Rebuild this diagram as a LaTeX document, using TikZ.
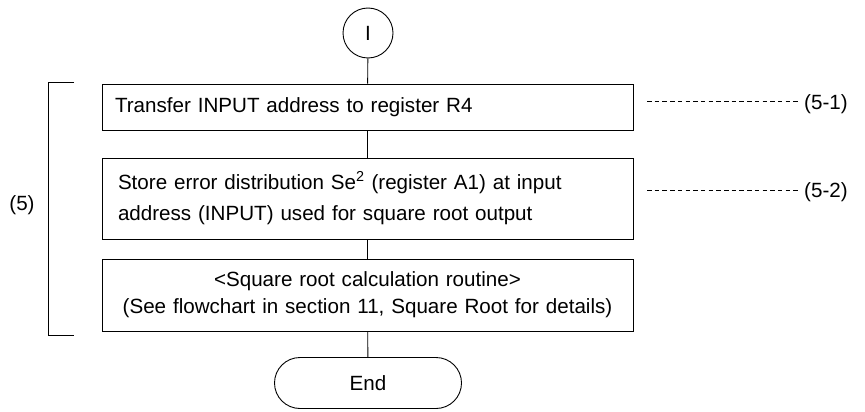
\documentclass[tikz,border=0pt]{standalone}
\usepackage{fontspec}
\setmainfont{Liberation Sans}
\usetikzlibrary{positioning}
\tikzset{
  procbox/.style={draw,line width=0.9pt,minimum width=531pt,inner ysep=0pt,
    inner xsep=14pt,text width=503pt},
  termnode/.style={draw,line width=0.9pt,minimum width=187pt,minimum height=51pt,
    rounded corners=25.5pt},
  flow/.style={line width=0.9pt},
  refline/.style={line width=1pt,dash pattern=on 4.5pt off 3.2pt}
}
\begin{document}
\begin{tikzpicture}[x=1pt,y=-1pt,every node/.style={font=\fontsize{20.6}{27}\selectfont}]
  \useasboundingbox (0,0) rectangle (865,412);
  \node[draw,line width=0.9pt,circle,minimum size=50pt,inner sep=0pt]
    (start) at (368,33) {I};
  \node[procbox,minimum height=46pt,align=left,inner xsep=13pt,text width=505pt]
    (xfer) at (367.5,107) {Transfer INPUT address to register R4};
  \node[procbox,minimum height=81pt,align=left,inner xsep=16pt,text width=499pt,
        font=\fontsize{20.6}{31.5}\selectfont]
    (store) at (367.5,198.5)
    {Store error distribution Se\textsuperscript{2} (register A1) at input\\
     address (INPUT) used for square root output};
  \node[procbox,minimum height=72pt,align=center]
    (sqrt) at (367.5,295)
    {<Square root calculation routine>\\
     (See flowchart in section 11, Square Root for details)};
  \node[termnode] (stop) at (368,383) {End};
  \draw[flow] (start) -- (xfer);
  \draw[flow] (xfer) -- (store);
  \draw[flow] (store) -- (sqrt);
  \draw[flow] (sqrt) -- (stop);
  % bracket for step (5)
  \coordinate (brtop) at (74,82);
  \coordinate (brbot) at (74,335);
  \draw[flow] (brtop) -- (48,82) -- (48,335) -- (brbot);
  \node (grp) at (22,205) {(5)};
  % references to sub steps
  \node[anchor=west,inner sep=0pt] (ref1) at (804,104) {(5-1)};
  \node[anchor=west,inner sep=0pt] (ref2) at (804,192) {(5-2)};
  \coordinate (d1) at (647,101);
  \coordinate (d2) at (647,190);
  \draw[refline] (d1) -- (799,101);
  \draw[refline] (d2) -- (799,190);
\end{tikzpicture}
\end{document}
